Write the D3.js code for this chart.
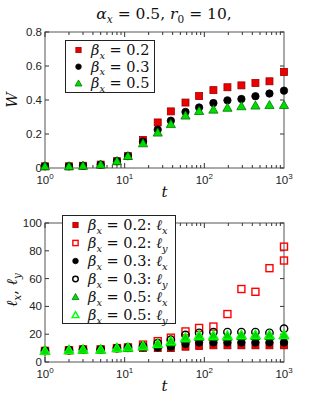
<!DOCTYPE html>
<meta charset="utf-8">
<style>
body { margin: 0; background: #fff; }
text { font-family: 'Liberation Sans', Arial, sans-serif; }
text.math { font-family: 'DejaVu Serif', 'Liberation Serif', serif; fill: #111; }
</style>
<body>
<script src="https://cdn.jsdelivr.net/npm/d3@7/dist/d3.min.js"></script>
<script>

// time steps (log spaced)
var tVals = [1, 2, 3, 5, 8, 11, 17, 26, 38, 58, 86, 130, 195, 292, 438, 657, 1000];

// W for each beta_x
var W02 = [0.01, 0.01, 0.013, 0.02, 0.04, 0.07, 0.165, 0.268, 0.333, 0.385, 0.423, 0.458, 0.475, 0.486, 0.5, 0.51, 0.565];
var W03 = [0.01, 0.01, 0.013, 0.02, 0.04, 0.07, 0.155, 0.226, 0.278, 0.33, 0.356, 0.382, 0.398, 0.406, 0.422, 0.438, 0.455];
var W05 = [0.01, 0.01, 0.013, 0.02, 0.04, 0.07, 0.145, 0.208, 0.258, 0.308, 0.335, 0.343, 0.354, 0.363, 0.367, 0.37, 0.37];

// lengths l_x, l_y for each beta_x
var lx02 = [8, 8.5, 9, 9, 10, 10, 10, 10, 10, 11, 11.5, 12, 12, 12, 12, 12, 12];
var ly02 = [8, 8.5, 9, 9, 10, 10.5, 12.5, 15, 17.5, 22, 24.5, 25.5, 34.5, 52.5, 50.5, 67.5, 73];
var ly02extra = {t: 1000, v: 83};
var lx03 = [8, 8.5, 9, 9, 10, 10, 10.5, 10.5, 11, 13, 14, 14, 14, 14, 14, 14, 14];
var ly03 = [8, 8.5, 9, 9, 10, 10.5, 11.5, 13.5, 16, 19.5, 21, 21.5, 21.5, 21.5, 21.5, 21, 24];
var lx05 = [8, 8.5, 9, 9, 10, 10, 11, 12.5, 14, 16.5, 18, 18, 18, 18.5, 18.5, 18.5, 19];
var ly05 = [8, 8.5, 9, 9, 10, 10.5, 11.5, 13, 15, 17.5, 19, 19, 19, 19.5, 19.5, 19.5, 19.5];

var wTicks = [0, 0.2, 0.4, 0.6, 0.8];
var lTicks = [0, 20, 40, 60, 80, 100];
var xTicks = [1, 10, 100, 1000];

var svg = d3.select("body").append("svg")
    .attr("width", 313).attr("height", 407);

var x = d3.scaleLog().domain([1, 1000]).range([45, 284]);

var RED = "#ee0000", BLK = "#000", GRN = "#00dd00";

function marker(g, type, cx, cy, filled, color, edge, sc) {
  sc = sc || 1;
  var sw = filled ? 0.8 : 1.4;
  if (type == "sq") {
    var h = 3.5 * sc;
    g.append("rect").attr("x", cx - h).attr("y", cy - h).attr("width", 2 * h).attr("height", 2 * h)
      .attr("fill", filled ? color : "none").attr("stroke", edge).attr("stroke-width", sw);
  } else if (type == "ci") {
    g.append("circle").attr("cx", cx).attr("cy", cy).attr("r", 3.7 * sc)
      .attr("fill", filled ? color : "none").attr("stroke", edge).attr("stroke-width", sw);
  } else {
    var s = 4.6 * sc;
    g.append("path").attr("d", "M" + cx + "," + (cy - s) + "L" + (cx + s) + "," + (cy + s * 0.75) + "L" + (cx - s) + "," + (cy + s * 0.75) + "Z")
      .attr("fill", filled ? color : "none").attr("stroke", edge).attr("stroke-width", sw);
  }
}

function panel(y, ticks, fmt, top, bottom) {
  var g = svg.append("g");
  var L = x.range()[0], R = x.range()[1];
  g.append("rect").attr("x", L).attr("y", top).attr("width", R - L).attr("height", bottom - top)
    .attr("fill", "none").attr("stroke", "#555").attr("stroke-width", 1);
  ticks.forEach(function(v) {
    g.append("line").attr("x1", L).attr("x2", L + 4).attr("y1", y(v)).attr("y2", y(v)).attr("stroke", "#333");
    g.append("line").attr("x1", R).attr("x2", R - 4).attr("y1", y(v)).attr("y2", y(v)).attr("stroke", "#333");
    g.append("text").attr("x", L - 3).attr("y", y(v) + 4).attr("text-anchor", "end")
      .attr("font-size", 11.5).attr("fill", "#222").text(fmt(v));
  });
  // log ticks, major + minor
  for (var dec = 1; dec < 1000; dec *= 10) {
    for (var k = 1; k < 10; k++) {
      var xv = x(dec * k), len = k == 1 ? 5 : 3;
      g.append("line").attr("x1", xv).attr("x2", xv).attr("y1", bottom).attr("y2", bottom - len).attr("stroke", "#333");
      g.append("line").attr("x1", xv).attr("x2", xv).attr("y1", top).attr("y2", top + len).attr("stroke", "#333");
    }
  }
  xTicks.forEach(function(v, i) {
    var tx = g.append("text").attr("x", x(v)).attr("y", bottom + 16).attr("text-anchor", "middle")
      .attr("font-size", 11.5).attr("fill", "#222");
    tx.append("tspan").text("10");
    tx.append("tspan").attr("dy", -5).attr("font-size", 8).text(i);
  });
  g.append("text").attr("class", "math").attr("x", (L + R) / 2).attr("y", bottom + 29)
    .attr("text-anchor", "middle").attr("font-style", "italic").attr("font-size", 15).text("t");
  return g;
}

// math label: list of [text, italic?, subscript?]
function mathText(t, parts, size) {
  var lvl = 0;
  parts.forEach(function(p) {
    var want = p[2] ? 1 : 0;
    var sp = t.append("tspan").text(p[0]);
    if (want != lvl) sp.attr("dy", (want - lvl) * size * 0.25);
    lvl = want;
    if (p[1]) sp.attr("font-style", "italic");
    if (p[2]) sp.attr("font-size", size * 0.68);
  });
}

// ---------- top panel: W ----------
var y1 = d3.scaleLinear().domain([0, 0.8]).range([168, 32]);
var g1 = panel(y1, wTicks, function(d) { return d == 0 ? "0" : d3.format(".1f")(d); }, 32, 168);

var series1 = [
  {v: W02, type: "sq", color: RED, edge: "#990000", label: "0.2"},
  {v: W03, type: "ci", color: BLK, edge: BLK, label: "0.3"},
  {v: W05, type: "tr", color: GRN, edge: "#007700", label: "0.5"}
];
series1.forEach(function(s) {
  s.v.forEach(function(d, i) { marker(g1, s.type, x(tVals[i]), y1(d), true, s.color, s.edge); });
});

// title
var title = svg.append("text").attr("class", "math").attr("x", 164).attr("y", 19)
  .attr("text-anchor", "middle").attr("font-size", 15.5).attr("xml:space", "preserve");
mathText(title, [["α", 1], ["x", 1, 1], [" = 0.5, "], ["r", 1], ["0", 0, 1], [" = 10,"]], 15.5);

svg.append("text").attr("class", "math").attr("transform", "translate(17,100) rotate(-90)")
  .attr("text-anchor", "middle").attr("font-style", "italic").attr("font-size", 15).text("W");

// legend top
var lg1 = svg.append("g");
lg1.append("rect").attr("x", 65.5).attr("y", 40.5).attr("width", 89).attr("height", 52)
  .attr("fill", "#fff").attr("stroke", "#222");
series1.forEach(function(s, i) {
  var ly = 50 + i * 16.7;
  marker(lg1, s.type, 78.5, ly, true, s.color, s.edge, 0.75);
  var t = lg1.append("text").attr("class", "math").attr("x", 91).attr("y", ly + 5)
    .attr("font-size", 14.5).attr("xml:space", "preserve");
  mathText(t, [["β", 1], ["x", 1, 1], [" = " + s.label]], 14.5);
});

// ---------- bottom panel: l_x, l_y ----------
var y2 = d3.scaleLinear().domain([0, 100]).range([362, 223]);
var g2 = panel(y2, lTicks, function(d) { return d; }, 223, 362);

var series2 = [
  {v: lx02, type: "sq", filled: true, color: RED, edge: "#990000", b: "0.2", l: "x"},
  {v: ly02, type: "sq", filled: false, color: RED, edge: "#ff0000", b: "0.2", l: "y"},
  {v: lx03, type: "ci", filled: true, color: BLK, edge: BLK, b: "0.3", l: "x"},
  {v: ly03, type: "ci", filled: false, color: BLK, edge: BLK, b: "0.3", l: "y"},
  {v: lx05, type: "tr", filled: true, color: GRN, edge: "#007700", b: "0.5", l: "x"},
  {v: ly05, type: "tr", filled: false, color: GRN, edge: "#00ff00", b: "0.5", l: "y"}
];
series2.forEach(function(s) {
  s.v.forEach(function(d, i) { marker(g2, s.type, x(tVals[i]), y2(d), s.filled, s.color, s.edge); });
});
marker(g2, "sq", x(ly02extra.t), y2(ly02extra.v), false, RED, "#ff0000");

var yl = svg.append("text").attr("class", "math").attr("transform", "translate(17,290) rotate(-90)")
  .attr("text-anchor", "middle").attr("font-size", 15).attr("xml:space", "preserve");
mathText(yl, [["ℓ", 1], ["x", 1, 1], [", "], ["ℓ", 1], ["y", 1, 1]], 15);

// legend bottom
var lg2 = svg.append("g");
lg2.append("rect").attr("x", 62.5).attr("y", 215.5).attr("width", 113).attr("height", 108)
  .attr("fill", "#fff").attr("stroke", "#222");
series2.forEach(function(s, i) {
  var ly = 225 + i * 18;
  marker(lg2, s.type, 75.5, ly, s.filled, s.color, s.edge, 0.75);
  var t = lg2.append("text").attr("class", "math").attr("x", 88).attr("y", ly + 5)
    .attr("font-size", 14.5).attr("xml:space", "preserve");
  mathText(t, [["β", 1], ["x", 1, 1], [" = " + s.b + ": "], ["ℓ", 1], [s.l, 1, 1]], 14.5);
});

</script>
</body>
